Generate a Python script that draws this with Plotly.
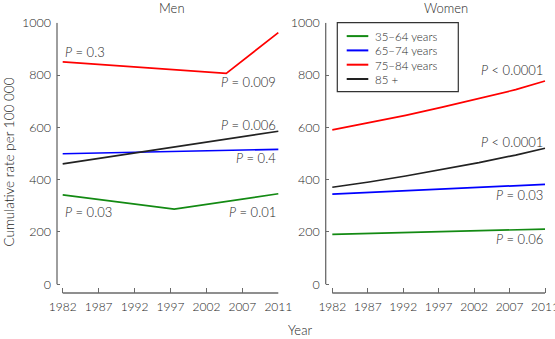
import plotly.graph_objects as go

# ---------------- data ----------------
series_names = ["35–64 years", "65–74 years", "75–84 years", "85 +"]
series_colors = ["#138a13", "#0000ff", "#ff0000", "#222222"]

# Men (joinpoint segments)
men_years_3564 = [1982, 1997, 2011]
men_vals_3564 = [342, 287, 346]
men_years_6574 = [1982, 2011]
men_vals_6574 = [499, 516]
men_years_7584 = [1982, 2004, 2011]
men_vals_7584 = [850, 806, 962]
men_years_85 = [1982, 2011]
men_vals_85 = [460, 585]

# Women
women_years = [1982, 1987, 1992, 1997, 2002, 2007, 2011]
women_vals_3564 = [191, 194, 198, 201, 204, 208, 211]
women_vals_6574 = [345, 351, 357, 363, 369, 376, 382]
women_vals_7584 = [590, 617, 646, 677, 710, 744, 777]
women_vals_85 = [371, 391, 414, 439, 465, 494, 520]

tick_labels = ["1982", "1987", "1992", "1997", "2002", "2007", "2011"]
y_ticks = [0, 200, 400, 600, 800, 1000]

men_pvals = ["<i>P</i> = 0.03", "<i>P</i> = 0.01", "<i>P</i> = 0.4",
             "<i>P</i> = 0.3", "<i>P</i> = 0.009", "<i>P</i> = 0.006"]
women_pvals = ["<i>P</i> = 0.06", "<i>P</i> = 0.03",
               "<i>P</i> &lt; 0.0001", "<i>P</i> &lt; 0.0001"]

# ---------------- figure ----------------
W, H = 555, 339
FONT = "Lato"
TXT = "#1e1e1e"
AX = "#6a6a6a"
WT = 300

def px(xp):
    return xp / W

def py(yp):
    return 1 - yp / H

fig = go.Figure()

men = [(men_years_3564, men_vals_3564), (men_years_6574, men_vals_6574),
       (men_years_7584, men_vals_7584), (men_years_85, men_vals_85)]
women = [women_vals_3564, women_vals_6574, women_vals_7584, women_vals_85]

for i, (xs, ys) in enumerate(men):
    fig.add_trace(go.Scatter(x=xs, y=ys, mode="lines", name=series_names[i],
                             line=dict(color=series_colors[i], width=1.7),
                             xaxis="x", yaxis="y", showlegend=False))
for i, ys in enumerate(women):
    fig.add_trace(go.Scatter(x=women_years, y=ys, mode="lines", name=series_names[i],
                             line=dict(color=series_colors[i], width=1.7),
                             xaxis="x2", yaxis="y2", showlegend=False))

x0, x1 = 1982, 2011
tickpos = [x0 + (x1 - x0) * k / 6 for k in range(7)]

ydom = [py(293), py(22.7)]
yrange = [-33.3, 1000]

xcommon = dict(tickmode="array", tickvals=tickpos, ticktext=tick_labels,
               ticks="inside", ticklen=5, tickwidth=1.3, tickcolor=AX,
               showgrid=False, zeroline=False, showline=False, automargin=False,
               ticklabeloverflow="allow",
               tickfont=dict(family=FONT, size=12, color=TXT, weight=WT),
               ticklabelstandoff=5)
ycommon = dict(tickmode="array", tickvals=y_ticks, range=yrange, domain=ydom,
               ticks="inside", ticklen=3, tickwidth=1.3, tickcolor=AX,
               showgrid=False, zeroline=False, showline=False, automargin=False,
               ticklabeloverflow="allow",
               tickfont=dict(family=FONT, size=12.5, color=TXT, weight=WT),
               ticklabelstandoff=5)

fig.update_layout(
    width=W, height=H, autosize=False,
    margin=dict(l=0, r=0, t=0, b=0, pad=0),
    paper_bgcolor="white", plot_bgcolor="white",
    showlegend=False,
    xaxis=dict(domain=[px(57), px(279)], range=[1981.233, 2011.094], anchor="y", **xcommon),
    yaxis=dict(anchor="x", **ycommon),
    xaxis2=dict(domain=[px(325.7), px(546)], range=[1981.10, 2011.136], anchor="y2", **xcommon),
    yaxis2=dict(anchor="x2", **ycommon),
)

# axis lines (y from 0 to 1000, x from 1982 to 2011)
for xr, yr in [("x", "y"), ("x2", "y2")]:
    fig.add_shape(type="line", xref=f"{xr} domain", yref=yr, x0=0, x1=0, y0=0, y1=1000,
                  line=dict(color=AX, width=1.3))
    fig.add_shape(type="line", xref=xr, yref=f"{yr} domain", x0=x0, x1=x1, y0=0, y1=0,
                  line=dict(color=AX, width=1.3))

ann = []
def a(text, x, y, xref, yref, xanchor="center", size=13, **kw):
    ann.append(dict(text=text, x=x, y=y, xref=xref, yref=yref, xanchor=xanchor,
                    yanchor="middle", showarrow=False,
                    font=dict(family=FONT, size=size, color=TXT, weight=WT), **kw))

# P value labels (men)
a(men_pvals[0], 1982, 277, "x", "y", "left")
a(men_pvals[1], 2011, 277, "x", "y", "right")
a(men_pvals[2], 2011, 481, "x", "y", "right")
a(men_pvals[3], 1982, 887, "x", "y", "left")
a(men_pvals[4], 2011, 772, "x", "y", "right")
a(men_pvals[5], 2011, 608, "x", "y", "right")
# women
a(women_pvals[0], 2011, 172, "x2", "y2", "right")
a(women_pvals[1], 2011, 341, "x2", "y2", "right")
a(women_pvals[2], 2011, 818, "x2", "y2", "right")
a(women_pvals[3], 2011, 545, "x2", "y2", "right")

# titles
a("Men", px(171.7), py(7.5), "paper", "paper", "center", size=13)
a("Women", px(445.7), py(7.5), "paper", "paper", "center", size=13)
a("Year", px(300), py(330), "paper", "paper", "center", size=13)
ann.append(dict(text="Cumulative rate per 100 000", x=px(8.5), y=py(162), xref="paper", yref="paper",
                textangle=-90, showarrow=False, xanchor="center", yanchor="middle",
                font=dict(family=FONT, size=13.5, color=TXT, weight=WT)))

# manual legend
fig.add_shape(type="rect", xref="paper", yref="paper", x0=px(337.3), x1=px(458.3),
              y0=py(91.7), y1=py(22.7), line=dict(color="#333333", width=1.2),
              fillcolor="white", layer="below")
leg_rows = [36.1, 50.4, 64.7, 79.0]
for i, name in enumerate(series_names):
    fig.add_shape(type="line", xref="paper", yref="paper", x0=px(346.7), x1=px(368.3),
                  y0=py(leg_rows[i]), y1=py(leg_rows[i]),
                  line=dict(color=series_colors[i], width=2))
    a(name, px(374), py(leg_rows[i]), "paper", "paper", "left", size=11.5, height=12, borderpad=0)

fig.update_layout(annotations=ann)
fig.write_html("out.html")
